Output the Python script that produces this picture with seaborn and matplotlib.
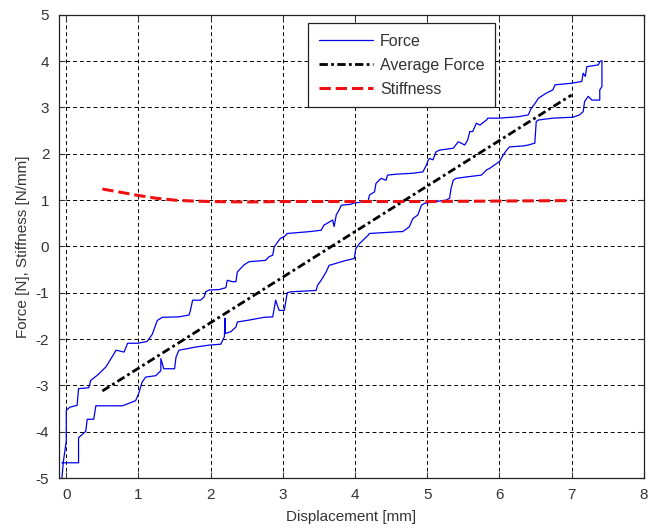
import numpy as np
import pandas as pd
import matplotlib
matplotlib.use("Agg")
import matplotlib.pyplot as plt
import seaborn as sns

# ---- data ----
# Force, loading branch (left -> right)
force_up_x = [-0.06, -0.04, 0.0, 0.0, 0.05, 0.15, 0.17, 0.31, 0.34, 0.43, 0.55, 0.62, 0.69, 0.80,
              0.85, 0.99, 1.12, 1.19, 1.26, 1.33, 1.56, 1.70, 1.72, 1.75, 1.86, 1.91, 1.93, 1.98,
              2.12, 2.21, 2.23, 2.30, 2.35, 2.37, 2.46, 2.53, 2.76, 2.81, 2.86, 2.88, 2.93, 2.97,
              3.02, 3.06, 3.37, 3.53, 3.57, 3.69, 3.71, 3.74, 3.78, 3.81, 3.94, 3.99, 4.18, 4.20,
              4.27, 4.29, 4.36, 4.43, 4.45, 4.57, 4.80, 4.94, 4.99, 5.01, 5.03, 5.08, 5.12, 5.17,
              5.36, 5.43, 5.52, 5.56, 5.59, 5.63, 5.68, 5.73, 5.82, 5.84, 6.00, 6.26, 6.40, 6.44,
              6.49, 6.54, 6.65, 6.74, 6.77, 6.98, 7.14, 7.16, 7.19, 7.21, 7.37, 7.39, 7.42]
force_up_y = [-4.99, -4.64, -4.20, -3.54, -3.47, -3.43, -3.07, -3.05, -2.89, -2.78, -2.60, -2.42,
              -2.24, -2.28, -2.09, -2.09, -2.05, -1.90, -1.60, -1.53, -1.52, -1.48, -1.38, -1.16,
              -1.16, -1.09, -0.98, -0.94, -0.93, -0.89, -0.73, -0.76, -0.76, -0.55, -0.40, -0.33,
              -0.30, -0.22, -0.19, -0.01, 0.10, 0.18, 0.21, 0.28, 0.32, 0.35, 0.46, 0.57, 0.43,
              0.68, 0.79, 0.89, 0.91, 0.94, 0.97, 1.11, 1.18, 1.36, 1.47, 1.43, 1.54, 1.56, 1.58,
              1.61, 1.76, 1.85, 1.90, 1.87, 2.04, 2.08, 2.12, 2.26, 2.19, 2.30, 2.48, 2.48, 2.66,
              2.62, 2.73, 2.77, 2.77, 2.80, 2.84, 2.98, 3.08, 3.20, 3.31, 3.38, 3.49, 3.52, 3.56,
              3.74, 3.67, 3.88, 3.92, 3.99, 4.01]

# Force, unloading branch (right -> left)
force_down_x = [7.42, 7.39, 7.39, 7.28, 7.23, 7.18, 7.16, 7.11, 7.02, 6.74, 6.54, 6.51, 6.49,
                6.40, 6.33, 6.14, 6.10, 6.05, 6.00, 5.96, 5.87, 5.82, 5.75, 5.54, 5.40, 5.36,
                5.33, 5.31, 5.26, 5.08, 4.96, 4.92, 4.87, 4.80, 4.75, 4.66, 4.62, 4.20, 4.18,
                4.06, 4.01, 3.99, 3.88, 3.81, 3.64, 3.60, 3.53, 3.48, 3.46, 3.11, 3.06, 3.04,
                3.02, 2.95, 2.93, 2.90, 2.88, 2.86, 2.74, 2.53, 2.37, 2.35, 2.28, 2.20, 2.20,
                2.19, 2.14, 1.98, 1.80, 1.70, 1.56, 1.52, 1.50, 1.35, 1.33, 1.31, 1.31, 1.24,
                1.10, 1.05, 1.00, 0.96, 0.78, 0.41, 0.38, 0.29, 0.27, 0.20, 0.17, 0.17, -0.06]
force_down_y = [3.45, 3.38, 3.16, 3.16, 3.24, 3.13, 2.91, 2.84, 2.79, 2.77, 2.73, 2.70, 2.23,
                2.19, 2.17, 2.15, 2.08, 1.97, 1.83, 1.79, 1.69, 1.65, 1.54, 1.50, 1.47, 1.43,
                1.25, 1.04, 1.00, 0.96, 0.93, 0.89, 0.68, 0.60, 0.42, 0.32, 0.32, 0.28, 0.24,
                0.06, -0.05, -0.26, -0.30, -0.33, -0.41, -0.55, -0.73, -0.84, -0.95, -0.98,
                -1.00, -1.20, -1.38, -1.38, -1.30, -1.16, -1.34, -1.52, -1.53, -1.59, -1.63,
                -1.74, -1.84, -1.88, -1.55, -1.95, -2.11, -2.13, -2.17, -2.20, -2.24, -2.39,
                -2.64, -2.64, -2.53, -2.42, -2.68, -2.79, -2.82, -2.93, -3.19, -3.33, -3.44,
                -3.44, -3.73, -3.73, -3.99, -4.09, -4.13, -4.67, -4.67]

# Average force (straight fit)
avg_x = [0.5, 7.0]
avg_y = [-3.12, 3.27]

# Stiffness
stiff_x = [0.5, 0.75, 1.0, 1.25, 1.5, 1.75, 2.0, 2.5, 3.0, 4.0, 5.0, 6.0, 7.0]
stiff_y = [1.24, 1.17, 1.10, 1.04, 1.00, 0.98, 0.97, 0.96, 0.97, 0.97, 0.97, 0.98, 0.99]

force = pd.DataFrame({"x": force_up_x + force_down_x, "y": force_up_y + force_down_y})

# ---- style ----
sns.set_style("ticks")
plt.rcParams["font.family"] = ["Liberation Sans", "DejaVu Sans"]
plt.rcParams["axes.unicode_minus"] = False
plt.rcParams["text.color"] = "#333333"
plt.rcParams["axes.labelcolor"] = "#333333"
plt.rcParams["xtick.color"] = "#333333"
plt.rcParams["ytick.color"] = "#333333"

fig = plt.figure(figsize=(6.49, 5.30), dpi=100)
ax = fig.add_axes([0.091, 0.098, 0.901, 0.874])

sns.lineplot(data=force, x="x", y="y", sort=False, estimator=None, ax=ax,
             color="#0000ee", linewidth=0.9, label="Force")
sns.lineplot(x=avg_x, y=avg_y, sort=False, estimator=None, ax=ax,
             color="black", linewidth=2.0, linestyle=(0, (3, 1.2, 1, 1.2)), label="Average Force")
sns.lineplot(x=stiff_x, y=stiff_y, sort=False, estimator=None, ax=ax,
             color="#ee1111", linewidth=2.2, linestyle="--", label="Stiffness")

ax.set_xlim(-0.1, 8)
ax.set_ylim(-5, 5)
ax.set_xticks(range(0, 9))
ax.set_yticks(range(-5, 6))
ax.grid(True, color="black", linestyle=(0, (4, 3)), linewidth=0.7)
ax.set_axisbelow(True)

for s in ax.spines.values():
    s.set_visible(True)
    s.set_color("#222222")
    s.set_linewidth(0.9)

ax.tick_params(direction="in", length=4, width=0.8, top=True, right=True,
               labelsize=11, pad=7)

ax.set_xlabel("Displacement [mm]", fontsize=11, labelpad=6)
ax.set_ylabel("Force [N], Stiffness [N/mm]", fontsize=11, labelpad=4)

leg = ax.legend(loc="upper left", bbox_to_anchor=(0.426, 0.982), fontsize=11.5,
                frameon=True, fancybox=False, handlelength=3.4, borderpad=0.65,
                labelspacing=0.58, handletextpad=0.45, borderaxespad=0)
leg.get_frame().set_edgecolor("#222222")
leg.get_frame().set_linewidth(0.9)
leg.get_frame().set_alpha(1)

fig.savefig("out.png", dpi=100, facecolor="white")
